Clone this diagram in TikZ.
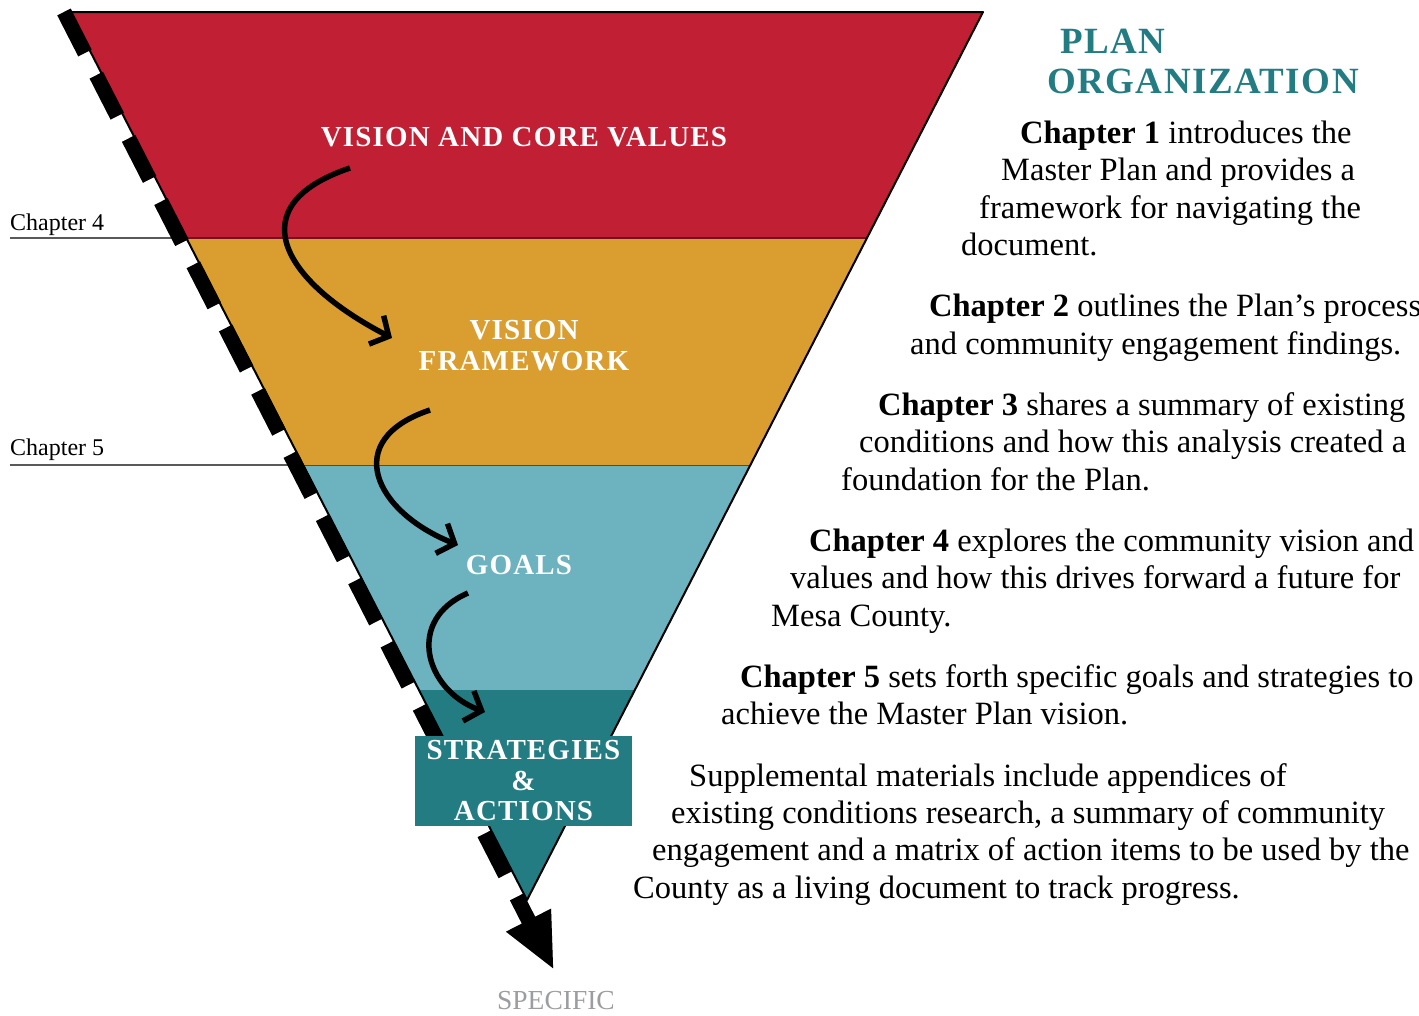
\documentclass[tikz,border=0pt]{standalone}
\usepackage{fontspec}
\setmainfont{Liberation Serif}
\newfontfamily\capsfont{Liberation Serif}[LetterSpace=4]
\usetikzlibrary{arrows.meta,positioning}
\definecolor{corered}{HTML}{C11F33}
\definecolor{framegold}{HTML}{D99E2F}
\definecolor{goalblue}{HTML}{6DB2BF}
\definecolor{stratteal}{HTML}{247C83}
\definecolor{specgray}{HTML}{9B9DA0}

\begin{document}
\begin{tikzpicture}[x=1pt, y=-1pt,
    caption/.style={text=white, inner sep=0pt, align=center, font=\capsfont\bfseries\fontsize{29}{30.5}\selectfont},
    bodyline/.style={anchor=base west, inner sep=0pt, font=\fontsize{32.5}{37}\selectfont},
    chapterlbl/.style={anchor=base west, inner sep=0pt, font=\fontsize{24}{26}\selectfont},
    swoop/.style={line width=5.5pt, -{Straight Barb[length=14pt,width=32pt]}},
    funnel/.style={line width=15pt, dash pattern=on 46pt off 25pt, -{Triangle[length=56pt,width=46pt]}}]
    \useasboundingbox (0,0) rectangle (1419,1015);
    % funnel bands
    \begin{scope}
        \clip (70,12) -- (983,12) -- (527,900) -- cycle;
        \foreach \top/\bot/\col in {0/238/corered,238/465/framegold,465/690/goalblue,690/910/stratteal}{\fill[\col] (0,\top) rectangle (1000,\bot);}
        \draw[line width=1.5pt, corered!60!black] (0,238) -- (1000,238);
        \draw[line width=1pt, black!70] (0,465) -- (1000,465);
    \end{scope}
    \draw[line width=2pt, line join=round] (70,12) -- (983,12) -- (527,900) -- cycle;
    % chapter marks
    \node[chapterlbl] (ch4) at (10,230) {Chapter 4};
    \node[chapterlbl] (ch5) at (10,455) {Chapter 5};
    \coordinate (ch4end) at (187,238);
    \coordinate (ch5end) at (290,465);
    \draw[black!65, line width=1.2pt] (ch4.south west |- ch4end) -- (ch4end);
    \draw[black!65, line width=1.2pt] (ch5.south west |- ch5end) -- (ch5end);
    % dashed general-to-specific arrow
    \coordinate (top) at (64,12);
    \coordinate (tip) at (554,970);
    \draw[funnel, black, opacity=.3, shift={(3,3)}] (top) -- (tip);
    \draw[funnel] (top) -- (tip);
    % band labels
    \node[caption] (core) at (524,137) {VISION AND CORE VALUES};
    \node[caption] (framework) at (524,345.5) {VISION\\FRAMEWORK};
    \node[caption] (goals) at (519,565) {GOALS};
    \node[caption, fill=stratteal, minimum width=217pt, minimum height=90pt] (strategies) at (523.5,781) {STRATEGIES\\\&\\ACTIONS};
    \node[text=specgray, font=\fontsize{27.5}{30}\selectfont] (specific) at (556,1001) {SPECIFIC};
    % swoops between levels
    \coordinate (s1) at (350,168); \coordinate (e1) at (392,338);
    \coordinate (s2) at (430,410); \coordinate (e2) at (458,545);
    \coordinate (s3) at (468,593); \coordinate (e3) at (485,712);
    \draw[swoop] (s1) .. controls (240,205) and (280,280) .. (e1);
    \draw[swoop] (s2) .. controls (340,440) and (375,512) .. (e2);
    \draw[swoop] (s3) .. controls (405,620) and (425,690) .. (e3);
    % plan organization text
    \node[anchor=base west, inner sep=0pt, text=stratteal, font=\capsfont\bfseries\fontsize{37}{40}\selectfont] (plan) at (1060,53) {PLAN};
    \node[anchor=base west, inner sep=0pt, text=stratteal, font=\capsfont\bfseries\fontsize{37}{40}\selectfont] (org) at (1047,93) {ORGANIZATION};
    \foreach \x/\y/\t [count=\i] in {
        1020/143/{\textbf{Chapter 1} introduces the},
        1001/180/{Master Plan and provides a},
        979/218/{framework for navigating the},
        961/255/{document.},
        929/316/{\textbf{Chapter 2} outlines the Plan’s process},
        910/354/{and community engagement findings.},
        878/415/{\textbf{Chapter 3} shares a summary of existing},
        859/452/{conditions and how this analysis created a},
        841/490/{foundation for the Plan.},
        809/551/{\textbf{Chapter 4} explores the community vision and},
        790/588/{values and how this drives forward a future for},
        771/626/{Mesa County.},
        740/687/{\textbf{Chapter 5} sets forth specific goals and strategies to},
        721/724/{achieve the Master Plan vision.},
        689/786/{Supplemental materials include appendices of},
        671/823/{existing conditions research, a summary of community},
        652/860/{engagement and a matrix of action items to be used by the},
        633/898/{County as a living document to track progress.}}
        {\node[bodyline] (line\i) at (\x,\y) {\t};}
\end{tikzpicture}
\end{document}
